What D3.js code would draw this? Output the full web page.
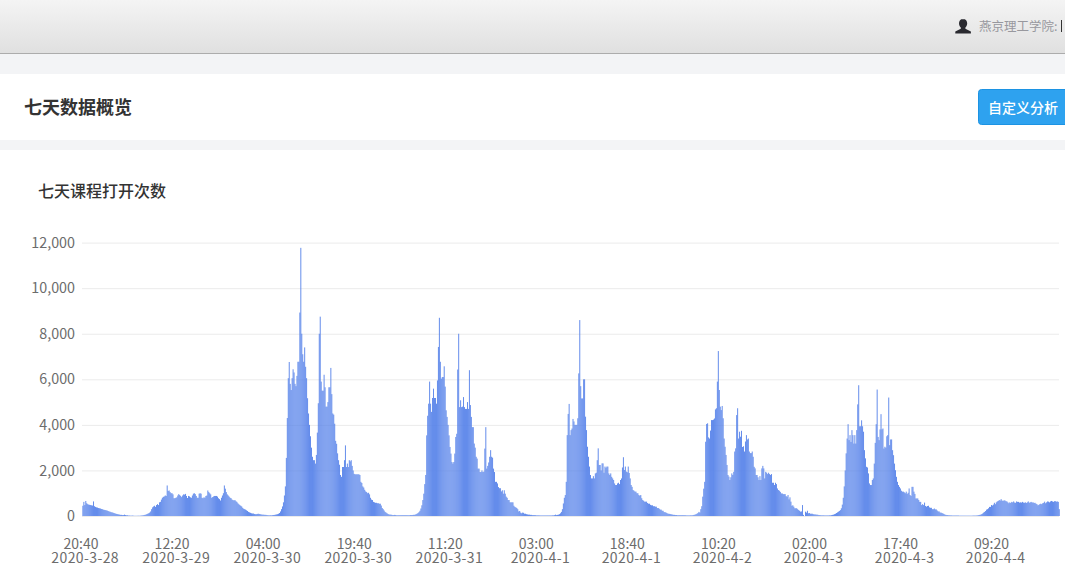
<!DOCTYPE html>
<html><head><meta charset="utf-8">
<style>html,body{margin:0;padding:0;background:#fff;overflow:hidden}svg{display:block}text{font-family:"Noto Sans CJK SC","Noto Sans",sans-serif}</style>
<script src="https://cdn.jsdelivr.net/npm/d3@7/dist/d3.min.js"></script>
</head><body><div id="c"></div>
<script>
const pageTitle="七天数据概览", chartTitle="七天课程打开次数", buttonLabel="自定义分析", userLabel="燕京理工学院:";
const yTicks=[0,2000,4000,6000,8000,10000,12000];
const timeLabels=["20:40","12:20","04:00","19:40","11:20","03:00","18:40","10:20","02:00","17:40","09:20"];
const dateLabels=["2020-3-28","2020-3-29","2020-3-30","2020-3-30","2020-3-31","2020-4-1","2020-4-1","2020-4-2","2020-4-3","2020-4-3","2020-4-4"];
const tickEvery=94;
const part1=[450,620,480,660,560,520,500,490,480,
470,460,640,430,400,380,370,350,340,330,
310,300,280,270,260,250,240,220,200,190,
170,160,150,130,120,100,90,80,70,60,
50,50,40,40,60,40,30,30,20,20,
15,15,20,15,10,10,10,10,15,10,
15,20,25,30,40,50,60,80,100,120,
150,200,300,380,420,450,400,480,520,480,
600,620,720,800,840,860,900,880,1340,1100];
const part2=[1120,1050,1000,1000,950,780,780,800,820,900,
960,920,880,830,900,950,940,970,880,790,
880,860,820,800,900,980,1000,960,880,800,
800,980,1000,980,800,780,820,800,880,900,
1120,1050,1000,950,800,830,860,880,880,880,
850,780,740,680,800,900,1000,1340,1200,1050,
950,900,850,800,780,720,700,680,700,650,
620,560,520,480,450,420,360,320,300,280,
250,220,180,160,140,120,110,110,90,80,
80,90,100,90,80,70,60,60,55,50,
50,40,35,30,30,35,30,40,45,50];
const part3=[60,70,80,100,130,200,300,420,600,900,
1300,2550,4300,6050,6760,5800,5530,6050,6440,6300,
5800,5700,6150,6770,6770,8930,11770,8000,7100,6770,
7400,6550,6050,5170,4500,4000,3500,3000,2600,2450,
2450,2300,2680,3660,4950,8000,8750,5900,5500,5500,
6200,5650,4800,4800,5000,5650,5650,6500,5350,4500,
4450,4050,3300,3170,2750,2450,2250,1800,1720,2150,
2150,2450,3100,2150,2300,2150,2450,2400,2450,2200,
2000,1850,1830,1830,1830,1830,1830,1800,1500,1450,
1300,1250,1150,1080,1050,1000,1020,950,800,720,
700,620,600,580,580,560,560,540,540,460,
350,300,240,180,150,120,90,70,60,60,
50,40,40,50,40,30,30,30,30,30,
30,30,30,30,30,30,30,30,30,40];
const part4=[40,40,50,50,60,80,100,130,170,230,
330,470,700,980,1400,1800,3540,4400,4930,5900,
4930,4570,5180,5590,5180,5180,4930,5950,7420,8700,
6770,6030,6100,6100,6570,5680,4640,4350,4000,3540,
3030,2740,2370,2300,2370,2740,3470,3610,6430,8000,
4780,5080,4780,4800,5220,4780,4700,4700,5000,4700,
6400,4870,4350,3900,3900,3180,3000,2600,2520,2080,
2080,1930,1930,2000,1930,1950,2960,3900,2080,2200,
2350,2600,2890,2600,2560,2080,1930,1500,1500,1430,
1270,1220,1220,1080,1130,980,1130,980,850,800,
700,700,600,600,600,600,450,400,380,350,
300,200,220,150,120,150,140,100,100,80,
70,60,60,50,50,40,40,40,40,30,
30,30,30,25,25,25,25,25,25,25,
25,25,25,25,25,25,30,30,40,60];
const part5=[40,50,60,80,120,180,300,550,800,920,
1500,3550,4480,4920,3550,3770,3840,4260,4150,4000,
4000,4000,4290,6260,8600,5700,5160,5160,6000,6000,
4360,3770,3040,2600,2170,1800,1650,1650,1750,1650,
1870,1900,2450,2970,2240,2240,2000,2310,2310,1900,
2170,2120,2170,2170,1870,1800,1870,1720,1650,1580,
1430,1360,1360,1430,1460,1400,1580,1650,2130,2580,
2020,2170,1950,1920,2170,1890,1650,1360,1280,1140,
1110,1070,1070,1000,1000,920,890,920,780,700,
670,630,630,630,570,540,540,490,470,470,
430,430,410,410,350,350,320,280,280,230,
230,170,170,150,130,100,100,90,80,70,
60,50,50,40,40,30,30,30,30,30,
30,30,30,30,25,25,25,25,30,30,
30,40,50,60,80,100,130,180,150,300];
const part6=[430,850,1200,1500,3260,4040,4070,3450,3400,3750,
4210,4210,4230,4280,4680,4730,5900,7240,5530,4800,
4650,4830,4290,3400,3040,2680,2240,1800,1730,1580,
1700,1870,1800,1940,2830,2970,4430,4730,3400,3700,
3480,3740,3030,3060,2830,3270,3550,3360,3400,2830,
2760,2760,2830,2600,2160,2090,1800,1800,1700,1580,
1750,1580,2090,2200,2090,1650,1940,1900,1840,1900,
1840,1800,1840,1460,1460,1360,1460,1400,1210,1140,
1110,1060,990,990,960,960,960,870,850,920,
730,820,630,450,470,410,340,340,340,300,
260,230,190,200,480,50,0,190,150,230,
120,130,100,100,100,80,70,70,60,60,
50,40,40,30,30,30,30,25,25,25,
25,25,30,30,40,50,60,80,100,130];
const part7=[160,190,220,260,340,500,800,1300,2000,2750,
3400,4030,3330,3550,3250,3770,3550,3180,3550,3180,
3770,4900,5740,3940,3940,4200,3940,3700,2890,2530,
2160,2130,1870,1430,1360,1360,1580,1650,2300,3210,
4030,5550,3470,3330,3800,4470,3800,3840,2960,3040,
3000,3500,3550,5200,3110,3360,3360,2890,2670,2300,
2010,1720,1500,1360,1280,1210,1110,1070,1070,1040,
1000,1070,970,1020,1210,920,880,1280,1280,1070,
970,770,770,770,700,620,620,480,520,480,
590,440,410,440,450,380,360,360,300,300,
330,290,290,240,200,200,150,150,130,110,
90,60,50,40,40,30,30,25,25,20,
20,20,20,20,20,20,15,15,15,15,
15,15,15,15,15,15,15,15,15,15,
20,20,20,20,25,30,40,50,60,80,
110,150,180,220,280,300,340,400,400,480,
460,500,580,520,600,640,660,700,680,740,
680,660,690,680,650,640,600,560,600,570,
620,600,640,590,580,640,620,620,590,600,
590,620,590,580,600,570,600,640,580,600,
620,590,600,570,580,540,520,470,490,520,
540,520,560,580,630,560,600,640,630,600,
640,660,640,620,650,650,630,640,620,300];
const values=[].concat(part1,part2,part3,part4,part5,part6,part7);

const W=1065,H=578;
const svg=d3.select("#c").append("svg").attr("width",W).attr("height",H);
const defs=svg.append("defs");
const g=defs.append("linearGradient").attr("id","top").attr("x1",0).attr("y1",0).attr("x2",0).attr("y2",1);
g.append("stop").attr("offset",0).attr("stop-color","#f4f4f4");
g.append("stop").attr("offset",1).attr("stop-color","#e0e0e0");
svg.append("rect").attr("width",W).attr("height",H).attr("fill","#f3f4f6");
svg.append("rect").attr("width",W).attr("height",53).attr("fill","url(#top)");
svg.append("rect").attr("y",53).attr("width",W).attr("height",1).attr("fill","#acacac");
svg.append("rect").attr("x",-6).attr("y",74).attr("width",W+12).attr("height",66).attr("rx",3).attr("fill","#fff");
svg.append("rect").attr("x",-6).attr("y",150).attr("width",W+12).attr("height",440).attr("rx",3).attr("fill","#fff");
// user icon
svg.append("path").attr("fill","#2a2a30").attr("d","M963 19c-2.6 0-4 2-4 4.3 0 1.8.8 3.4 1.8 4.3v1.2l-5.5 2.6v2.1h15.6v-2.1l-5.500-2.600v-1.200c1-.9 1.800-2.500 1.800-4.300 0-2.300-1.400-4.300-4.200-4.300z");
svg.append("text").attr("x",979).attr("y",31).attr("font-size",12.5).attr("fill","#98989e").text(userLabel);
svg.append("rect").attr("x",1061).attr("y",20).attr("width",1).attr("height",12).attr("fill","#333");
svg.append("text").attr("x",24).attr("y",114).attr("font-size",18).attr("font-weight",700).attr("fill","#333").text(pageTitle);
svg.append("rect").attr("x",978.5).attr("y",89.500).attr("width",100).attr("height",35).attr("rx",3).attr("fill","#2ea2ef").attr("stroke","#1c93e3");
svg.append("text").attr("x",988).attr("y",113).attr("font-size",14).attr("font-weight",500).attr("fill","#fff").text(buttonLabel);
svg.append("text").attr("x",38).attr("y",197).attr("font-size",16).attr("font-weight",500).attr("fill","#333").text(chartTitle);

const left=82.42, right=1059.72, n=values.length;
const x=d3.scaleBand().domain(d3.range(n)).range([left,right]).paddingInner(0.07).paddingOuter(0.035);
const y=d3.scaleLinear().domain([0,12000]).range([516,242.6]);

const yAxis=svg.append("g").attr("transform","translate(82,0)")
  .call(d3.axisLeft(y).tickValues(yTicks).tickFormat(d3.format(",")).tickSize(0).tickPadding(7));
yAxis.select(".domain").remove();
yAxis.selectAll("text").attr("font-size",14.3).attr("fill","#6c6c6c").style("font-family",'"Noto Sans CJK SC"');
yAxis.selectAll(".tick line").attr("x2",977).attr("stroke","#ebebeb");

const tickIdx=timeLabels.map((_,i)=>i*tickEvery);
const xAxis=svg.append("g").attr("transform","translate(0,516)")
  .call(d3.axisBottom(x).tickValues(tickIdx).tickSize(0).tickFormat(""));
xAxis.select(".domain").attr("stroke","#ebebeb").attr("d","M82,0.5H1059");
xAxis.selectAll(".tick").each(function(d,i){
  const t=d3.select(this);
  t.select("text").remove();
  const lab=t.append("text").attr("y",33).attr("text-anchor","middle").attr("font-size",14).attr("fill","#6c6c6c");
  lab.append("tspan").attr("x",-1.9).text(timeLabels[i]);
  lab.append("tspan").attr("x",2.2).attr("dy",14).style("letter-spacing","0.4px").text(dateLabels[i]);
});

svg.append("g").selectAll("rect").data(values).join("rect")
  .attr("x",(d,i)=>x(i)).attr("width",x.bandwidth())
  .attr("y",d=>y(d)).attr("height",d=>y(0)-y(d)).attr("fill","#5480e9");
</script></body></html>
